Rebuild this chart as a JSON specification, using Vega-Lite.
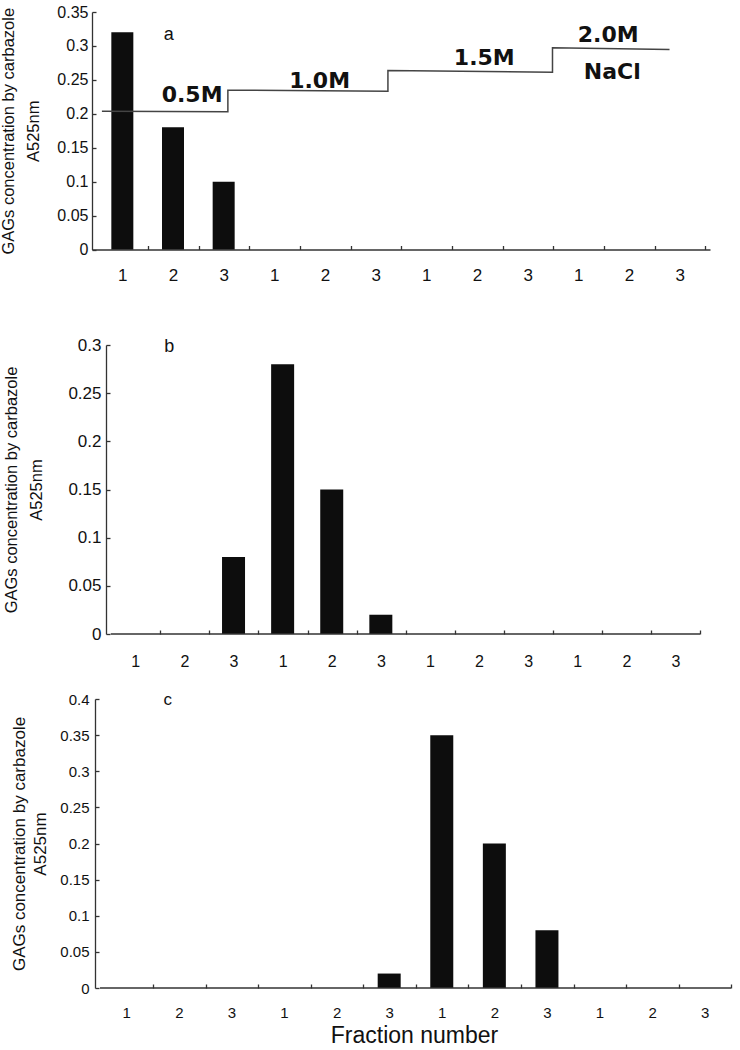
{
  "$schema": "https://vega.github.io/schema/vega-lite/v6.json",
  "background": "white",
  "padding": {"left": 0, "top": 4, "right": 0, "bottom": 0},
  "config": {
    "view": {"stroke": null},
    "font": "Liberation Sans",
    "axis": {"grid": false, "domainColor": "#333", "tickColor": "#333", "labelColor": "#111", "titleColor": "#111", "titleFontWeight": "normal", "labelFont": "Liberation Sans", "titleFont": "Liberation Sans", "domainWidth": 1.3, "tickWidth": 1.3, "labelOverlap": false, "labelFlush": false, "tickCount": 20}
  },
  "spacing": 21,
  "vconcat": [
    {
      "width": 618,
      "height": 237.5,
      "layer": [
        {
          "data": {"values": [
            {"pos": 0.5, "value": 0.32}, {"pos": 1.5, "value": 0.18}, {"pos": 2.5, "value": 0.10},
            {"pos": 3.5, "value": 0}, {"pos": 4.5, "value": 0}, {"pos": 5.5, "value": 0},
            {"pos": 6.5, "value": 0}, {"pos": 7.5, "value": 0}, {"pos": 8.5, "value": 0},
            {"pos": 9.5, "value": 0}, {"pos": 10.5, "value": 0}, {"pos": 11.5, "value": 0}
          ]},
          "mark": {"type": "bar", "width": 22, "color": "#0d0d0d"},
          "encoding": {
            "x": {"field": "pos", "type": "quantitative", "scale": {"domain": [0, 12], "nice": false, "zero": false},
              "axis": {"values": [0.5, 1.5, 2.5, 3.5, 4.5, 5.5, 6.5, 7.5, 8.5, 9.5, 10.5, 11.5], "tickCount": 20, "labelExpr": "'' + ((datum.value - 0.5) % 3 + 1)", "tickOffset": 25.75, "labelOffset": -25.75, "tickSize": -4, "labelPadding": 22, "labelFontSize": 17, "title": ".", "titleOpacity": 0, "titleFontSize": 10, "titlePadding": 21}},
            "y": {"field": "value", "type": "quantitative", "scale": {"domain": [0, 0.35], "nice": false},
              "axis": {"values": [0, 0.05, 0.1, 0.15, 0.2, 0.25, 0.3, 0.35], "tickCount": 20, "format": "~g", "tickSize": -4, "labelPadding": 8, "labelFontSize": 16, "title": ["GAGs concentration by carbazole", "A525nm"], "titleFontSize": 16.5, "titleLineHeight": 25, "titlePadding": 15}}
          }
        },
        {
          "data": {"values": [
            {"ord": 0, "pos": 0.097, "value": 0.2038}, {"ord": 1, "pos": 2.583, "value": 0.2029},
            {"ord": 2, "pos": 2.583, "value": 0.2348}, {"ord": 3, "pos": 5.742, "value": 0.2333},
            {"ord": 4, "pos": 5.742, "value": 0.2638}, {"ord": 5, "pos": 8.99, "value": 0.2613},
            {"ord": 6, "pos": 8.99, "value": 0.2972}, {"ord": 7, "pos": 11.3, "value": 0.2947}
          ]},
          "mark": {"type": "line", "color": "#444", "strokeWidth": 1.5},
          "encoding": {
            "x": {"field": "pos", "type": "quantitative"},
            "y": {"field": "value", "type": "quantitative"},
            "order": {"field": "ord", "type": "quantitative"}
          }
        },
        {
          "data": {"values": [
            {"pos": 1.877, "value": 0.2284, "label": "0.5M"},
            {"pos": 4.394, "value": 0.2486, "label": "1.0M"},
            {"pos": 7.644, "value": 0.2825, "label": "1.5M"},
            {"pos": 10.09, "value": 0.3168, "label": "2.0M"},
            {"pos": 10.17, "value": 0.2616, "label": "NaCl"}
          ]},
          "mark": {"type": "text", "font": "DejaVu Sans", "fontWeight": "bold", "fontSize": 22, "color": "#111", "baseline": "middle", "align": "center"},
          "encoding": {
            "x": {"field": "pos", "type": "quantitative"},
            "y": {"field": "value", "type": "quantitative"},
            "text": {"field": "label"}
          }
        },
        {
          "data": {"values": [{"pos": 1.414, "value": 0.3154, "label": "a"}]},
          "mark": {"type": "text", "fontSize": 18, "color": "#111", "baseline": "middle", "align": "center"},
          "encoding": {
            "x": {"field": "pos", "type": "quantitative"},
            "y": {"field": "value", "type": "quantitative"},
            "text": {"field": "label"}
          }
        }
      ]
    },
    {
      "width": 613,
      "height": 289,
      "layer": [
        {
          "data": {"values": [
            {"pos": 0.5, "value": 0}, {"pos": 1.5, "value": 0}, {"pos": 2.5, "value": 0.08},
            {"pos": 3.5, "value": 0.28}, {"pos": 4.5, "value": 0.15}, {"pos": 5.5, "value": 0.02},
            {"pos": 6.5, "value": 0}, {"pos": 7.5, "value": 0}, {"pos": 8.5, "value": 0},
            {"pos": 9.5, "value": 0}, {"pos": 10.5, "value": 0}, {"pos": 11.5, "value": 0}
          ]},
          "mark": {"type": "bar", "width": 23, "color": "#0d0d0d"},
          "encoding": {
            "x": {"field": "pos", "type": "quantitative", "scale": {"domain": [-0.2805, 12], "nice": false, "zero": false},
              "axis": {"values": [0.5, 1.5, 2.5, 3.5, 4.5, 5.5, 6.5, 7.5, 8.5, 9.5, 10.5, 11.5], "tickCount": 20, "labelExpr": "'' + ((datum.value - 0.5) % 3 + 1)", "tickOffset": 24.96, "labelOffset": -24.96, "tickSize": -4, "labelPadding": 23, "labelFontSize": 16, "domain": false, "title": null}},
            "y": {"field": "value", "type": "quantitative", "scale": {"domain": [0, 0.3], "nice": false},
              "axis": {"values": [0, 0.05, 0.1, 0.15, 0.2, 0.25, 0.3], "tickCount": 20, "format": "~g", "offset": -14, "tickSize": -4, "labelPadding": 9, "labelFontSize": 17, "title": ["GAGs concentration by carbazole", "A525nm"], "titleFontSize": 16.5, "titleLineHeight": 25, "titlePadding": 23}}
          }
        },
        {
          "data": {"values": [{"pos": 0, "pos2": 12, "value": 0}]},
          "mark": {"type": "rule", "color": "#333", "strokeWidth": 1.3},
          "encoding": {
            "x": {"field": "pos", "type": "quantitative"},
            "x2": {"field": "pos2"},
            "y": {"field": "value", "type": "quantitative"}
          }
        },
        {
          "data": {"values": [{"pos": 1.19, "value": 0.2979, "label": "b"}]},
          "mark": {"type": "text", "fontSize": 18, "color": "#111", "baseline": "middle", "align": "center"},
          "encoding": {
            "x": {"field": "pos", "type": "quantitative"},
            "y": {"field": "value", "type": "quantitative"},
            "text": {"field": "label"}
          }
        }
      ]
    },
    {
      "width": 644,
      "height": 289,
      "layer": [
        {
          "data": {"values": [
            {"pos": 0.5, "value": 0}, {"pos": 1.5, "value": 0}, {"pos": 2.5, "value": 0},
            {"pos": 3.5, "value": 0}, {"pos": 4.5, "value": 0}, {"pos": 5.5, "value": 0.02},
            {"pos": 6.5, "value": 0.35}, {"pos": 7.5, "value": 0.20}, {"pos": 8.5, "value": 0.08},
            {"pos": 9.5, "value": 0}, {"pos": 10.5, "value": 0}, {"pos": 11.5, "value": 0}
          ]},
          "mark": {"type": "bar", "width": 23, "color": "#0d0d0d"},
          "encoding": {
            "x": {"field": "pos", "type": "quantitative", "scale": {"domain": [-0.0562, 12], "nice": false, "zero": false},
              "axis": {"values": [0.5, 1.5, 2.5, 3.5, 4.5, 5.5, 6.5, 7.5, 8.5, 9.5, 10.5, 11.5], "tickCount": 20, "labelExpr": "'' + ((datum.value - 0.5) % 3 + 1)", "tickOffset": 26.71, "labelOffset": -26.71, "tickSize": -4, "labelPadding": 21, "labelFontSize": 15, "domain": false, "title": "Fraction number", "titleFontSize": 23, "titlePadding": 4}},
            "y": {"field": "value", "type": "quantitative", "scale": {"domain": [0, 0.4], "nice": false},
              "axis": {"values": [0, 0.05, 0.1, 0.15, 0.2, 0.25, 0.3, 0.35, 0.4], "tickCount": 20, "format": "~g", "offset": -3, "tickSize": -4, "labelPadding": 10, "labelFontSize": 15, "title": ["GAGs concentration by carbazole", "A525nm"], "titleFontSize": 17, "titleLineHeight": 21, "titlePadding": 10}}
          }
        },
        {
          "data": {"values": [{"pos": 0, "pos2": 12, "value": 0}]},
          "mark": {"type": "rule", "color": "#333", "strokeWidth": 1.3},
          "encoding": {
            "x": {"field": "pos", "type": "quantitative"},
            "x2": {"field": "pos2"},
            "y": {"field": "value", "type": "quantitative"}
          }
        },
        {
          "data": {"values": [{"pos": 1.29, "value": 0.399, "label": "c"}]},
          "mark": {"type": "text", "fontSize": 17, "color": "#111", "baseline": "middle", "align": "center"},
          "encoding": {
            "x": {"field": "pos", "type": "quantitative"},
            "y": {"field": "value", "type": "quantitative"},
            "text": {"field": "label"}
          }
        }
      ]
    }
  ]
}
